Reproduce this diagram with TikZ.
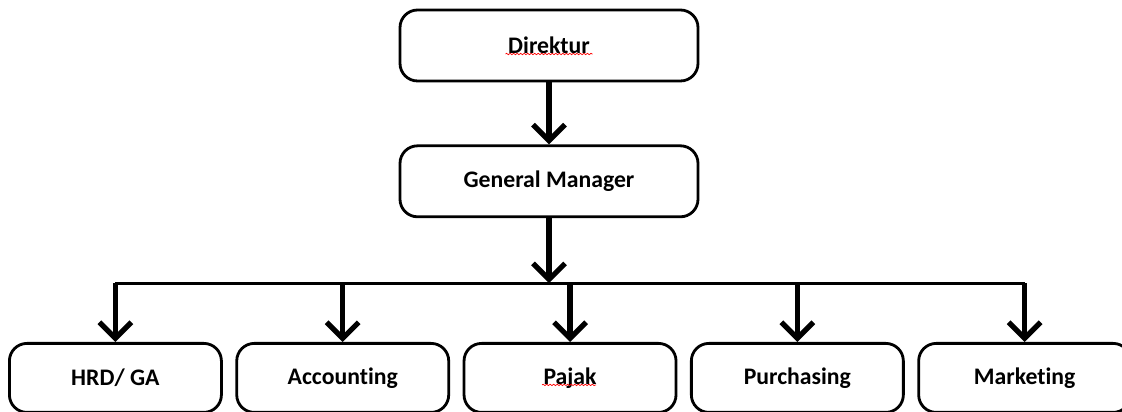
\documentclass[tikz,border=0pt]{standalone}
\usepackage{fontspec}
\setmainfont{Carlito}[Ligatures=NoCommon]
\usetikzlibrary{positioning}
\usetikzlibrary{arrows.meta}
\usetikzlibrary{decorations.pathmorphing}

\begin{document}
\begin{tikzpicture}
\tikzstyle{topbox} = [draw, line width=1.6pt, rounded corners=10pt, minimum width=5.96cm, minimum height=1.42cm, align=center, font=\bfseries\fontsize{13.5}{16}\selectfont]
\tikzstyle{unitbox} = [topbox, minimum width=4.24cm, minimum height=1.38cm]
\tikzstyle{line} = [draw, line width=3pt, -{Straight Barb[length=0.32cm, width=0.64cm]}]
\tikzstyle{bus} = [draw, line width=1.6pt]
\tikzstyle{typo} = [draw=red, line width=0.4pt, decorate, decoration={snake, amplitude=0.4pt, segment length=2pt}]

\useasboundingbox (0,0) rectangle (22.44,-8.24);

\node [topbox] (dir) at (10.98,-0.91) {Direktur};
\node [topbox, below=1.24cm of dir] (gm) {General Manager};
\node [unitbox, anchor=north west] (hrd) at (0.16,-6.84) {HRD/ GA};
\node [unitbox, right=0.25cm of hrd] (acc) {Accounting};
\node [unitbox, right=0.25cm of acc] (pjk) {Pajak};
\node [unitbox, right=0.25cm of pjk] (pur) {Purchasing};
\node [unitbox, right=0.25cm of pur] (mkt) {Marketing};
\coordinate [below=1.3cm of gm] (bus);

\path [line] (dir) -- (gm);
\path [line] (gm) -- (bus);
\path [bus] (bus -| hrd) -- (bus -| mkt);
\path [line] (bus -| hrd) -- (hrd);
\path [line] (bus -| acc) -- (acc);
\path [line] (bus -| pjk) -- (pjk);
\path [line] (bus -| pur) -- (pur);
\path [line] (bus -| mkt) -- (mkt);

% spell-check marks
\path [typo] ([xshift=-0.87cm, yshift=-0.17cm]dir.center) -- ++(1.74,0);
\path [typo] ([xshift=-0.56cm, yshift=-0.14cm]pjk.center) -- ++(1.08,0);
\end{tikzpicture}
\end{document}
